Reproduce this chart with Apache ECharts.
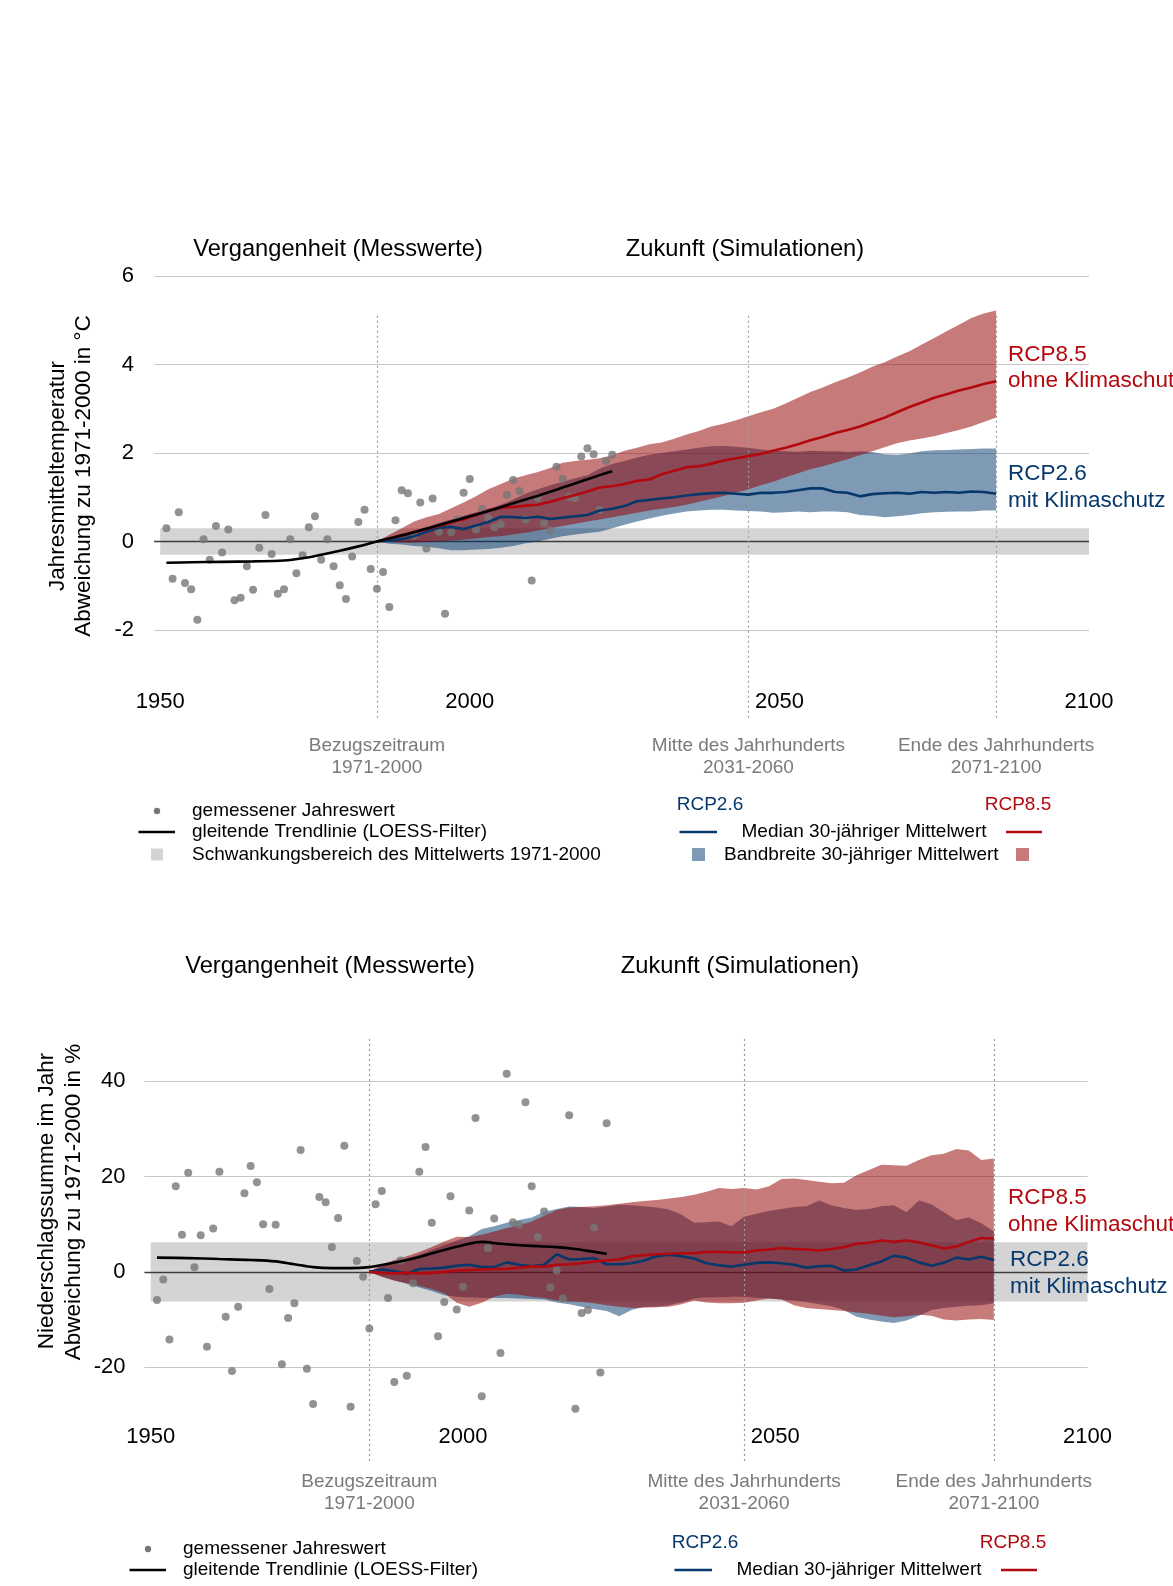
<!DOCTYPE html>
<html><head><meta charset="utf-8">
<script src="https://cdn.jsdelivr.net/npm/echarts@6/dist/echarts.min.js"></script>
<style>html,body{margin:0;padding:0;background:#fff}#c{width:1173px;height:1586px}</style>
</head><body><div id="c"></div>
<script>
const FONT = '"Liberation Sans", Arial, Helvetica, sans-serif';

// ---------- shared x values ----------
const obsYears = [1951,1952,1953,1954,1955,1956,1957,1958,1959,1960,1961,1962,1963,1964,1965,1966,1967,1968,1969,1970,1971,1972,1973,1974,1975,1976,1977,1978,1979,1980,1981,1982,1983,1984,1985,1986,1987,1988,1989,1990,1991,1992,1993,1994,1995,1996,1997,1998,1999,2000,2001,2002,2003,2004,2005,2006,2007,2008,2009,2010,2011,2012,2013,2014,2015,2016,2017,2018,2019,2020,2021,2022,2023];
const modelYears = [1985,1987,1989,1991,1993,1995,1997,1999,2001,2003,2005,2007,2009,2011,2013,2015,2017,2019,2021,2023,2025,2027,2029,2031,2033,2035,2037,2039,2041,2043,2045,2047,2049,2051,2053,2055,2057,2059,2061,2063,2065,2067,2069,2071,2073,2075,2077,2079,2081,2083,2085];
const xTickLabels = [1950, 2000, 2050, 2100];
const periodYears = [1985, 2045, 2085];
const periodLabels = ['Bezugszeitraum\n1971-2000', 'Mitte des Jahrhunderts\n2031-2060', 'Ende des Jahrhunderts\n2071-2100'];

// ---------- chart 1: temperature ----------
const tempTicks = [-2, 0, 2, 4, 6];
const tempRefBand = [-0.3, 0.3];
const tempObs = [0.30,-0.84,0.66,-0.94,-1.08,-1.77,0.05,-0.41,0.35,-0.25,0.27,-1.33,-1.27,-0.56,-1.09,-0.14,0.60,-0.28,-1.18,-1.08,0.05,-0.72,-0.31,0.32,0.57,-0.41,0.05,-0.56,-0.99,-1.30,-0.34,0.44,0.72,-0.62,-1.07,-0.69,-1.48,0.48,1.16,1.09,0.14,0.88,-0.16,0.97,0.22,-1.63,0.21,0.50,1.10,1.41,0.27,0.74,0.53,0.32,0.39,1.05,1.39,1.14,0.50,-0.88,0.99,0.41,0.25,1.69,1.42,1.01,0.98,1.92,2.11,1.97,0.71,1.82,1.96];
const tempTrendYears = [1951,1955,1960,1965,1970,1973,1976,1979,1982,1985,1988,1991,1994,1997,2000,2003,2006,2009,2012,2015,2018,2021,2023];
const tempTrend = [-0.48,-0.47,-0.46,-0.45,-0.43,-0.38,-0.30,-0.21,-0.11,0.0,0.10,0.21,0.33,0.45,0.57,0.69,0.82,0.95,1.08,1.22,1.36,1.50,1.59];
const tempRcp26Low = [0.0,-0.05,-0.07,-0.1,-0.12,-0.15,-0.2,-0.2,-0.18,-0.17,-0.14,-0.1,-0.04,0.0,0.06,0.12,0.16,0.19,0.22,0.3,0.38,0.45,0.52,0.58,0.63,0.68,0.7,0.72,0.72,0.7,0.69,0.68,0.65,0.66,0.68,0.66,0.68,0.68,0.66,0.6,0.58,0.55,0.57,0.6,0.64,0.66,0.67,0.68,0.68,0.7,0.7];
const tempRcp26Med = [0.0,0.02,0.05,0.12,0.22,0.31,0.33,0.28,0.36,0.44,0.56,0.55,0.53,0.56,0.51,0.54,0.57,0.6,0.7,0.74,0.8,0.91,0.94,0.97,1.0,1.04,1.07,1.09,1.1,1.08,1.06,1.1,1.1,1.12,1.16,1.2,1.2,1.12,1.1,1.02,1.07,1.09,1.1,1.08,1.12,1.1,1.12,1.1,1.13,1.12,1.08];
const tempRcp26High = [0.0,0.1,0.17,0.25,0.33,0.42,0.5,0.58,0.66,0.74,0.83,0.95,1.08,1.18,1.27,1.35,1.43,1.5,1.65,1.75,1.82,1.9,1.96,2.0,2.04,2.08,2.12,2.15,2.16,2.14,2.12,2.08,2.05,2.04,2.03,2.05,2.04,2.04,2.02,2.04,2.02,1.97,1.96,1.99,2.04,2.06,2.07,2.08,2.09,2.1,2.1];
const tempRcp85Low = [0.0,-0.01,-0.02,-0.02,-0.01,0.0,0.02,0.04,0.07,0.1,0.12,0.16,0.2,0.25,0.3,0.35,0.4,0.45,0.5,0.55,0.6,0.65,0.7,0.74,0.78,0.83,0.9,0.96,1.03,1.1,1.18,1.27,1.35,1.45,1.54,1.63,1.7,1.78,1.86,1.95,2.04,2.13,2.22,2.28,2.33,2.38,2.45,2.52,2.6,2.7,2.8];
const tempRcp85Med = [0.0,0.07,0.14,0.21,0.28,0.35,0.43,0.5,0.6,0.7,0.76,0.78,0.81,0.83,0.9,0.98,1.05,1.13,1.22,1.25,1.3,1.37,1.4,1.52,1.6,1.68,1.7,1.76,1.83,1.88,1.93,1.98,2.05,2.12,2.2,2.29,2.36,2.45,2.52,2.6,2.7,2.8,2.92,3.04,3.14,3.25,3.33,3.41,3.48,3.56,3.62];
const tempRcp85High = [0.0,0.15,0.3,0.45,0.55,0.62,0.75,0.88,1.02,1.18,1.3,1.42,1.5,1.57,1.66,1.78,1.82,1.85,1.88,1.95,2.05,2.12,2.2,2.24,2.32,2.42,2.5,2.6,2.66,2.74,2.83,2.92,3.0,3.12,3.25,3.38,3.48,3.6,3.7,3.82,3.95,4.05,4.18,4.3,4.45,4.6,4.75,4.9,5.05,5.15,5.22];

// ---------- chart 2: precipitation ----------
const precipTicks = [-20, 0, 20, 40];
const precipRefBand = [-6.2, 6.2];
const precipObs = [-5.9,-1.6,-14.2,18.0,7.8,20.8,1.0,7.7,-15.7,9.1,21.0,-9.4,-20.8,-7.3,16.5,22.2,18.8,10.0,-3.6,9.9,-19.4,-9.7,-6.6,25.6,-20.3,-27.7,15.7,14.6,5.2,11.3,26.5,-28.3,2.3,-1.0,-11.9,14.2,17.0,-5.5,-23.1,2.4,-21.8,-2.4,21.0,26.2,10.3,-13.5,-6.3,15.9,-7.9,-3.1,12.9,32.3,-26.1,5.0,11.2,-17.0,41.6,10.4,9.9,35.6,18.0,7.3,12.7,-3.3,0.3,-5.6,32.9,-28.7,-8.6,-8.0,9.3,-21.1,31.2];
const precipTrendYears = [1951,1956,1961,1966,1970,1973,1976,1979,1982,1985,1988,1991,1994,1997,2000,2003,2006,2009,2012,2015,2018,2021,2023];
const precipTrend = [3.0,2.9,2.7,2.5,2.2,1.6,1.0,0.8,0.8,1.0,1.7,2.5,3.5,4.6,5.6,6.3,5.9,5.6,5.4,5.2,4.8,4.2,3.8];
const precipRcp26Low = [0,-1.0,-1.8,-2.5,-3.3,-4.0,-4.9,-5.2,-5.3,-5.4,-5.5,-5.5,-5.6,-5.7,-5.8,-6.4,-6.8,-7.3,-7.8,-8.2,-9.3,-8.0,-7.3,-7.3,-7.0,-6.4,-5.6,-5.3,-5.3,-5.2,-5.2,-5.4,-5.6,-5.8,-6.0,-6.3,-6.8,-7.2,-8.0,-9.4,-10.0,-10.4,-10.7,-10.2,-9.2,-8.0,-7.6,-7.3,-7.1,-7.0,-6.6];
const precipRcp26Med = [0,0.5,0.2,-0.4,0.6,0.7,0.9,1.3,1.5,1.0,1.0,2.0,1.5,1.2,1.5,3.7,2.6,2.7,2.9,1.6,1.6,1.8,2.4,3.3,3.6,3.3,2.8,1.8,1.4,1.1,1.5,1.9,2.0,1.8,1.5,0.9,1.2,1.3,0.3,0.5,1.4,2.2,3.4,3.0,2.0,1.3,1.9,3.0,2.6,3.2,2.5];
const precipRcp26High = [0,1.2,2.0,2.8,3.6,4.6,5.6,6.6,7.5,9.0,9.6,10.3,10.9,11.4,12.6,13.2,13.7,13.6,13.4,13.7,14.1,14.0,13.8,13.5,13.1,12.0,10.3,10.4,10.6,9.6,11.6,12.2,12.8,13.2,13.6,13.8,15.0,14.0,13.4,13.0,13.2,13.8,14.0,12.5,15.0,14.2,12.5,10.9,11.4,10.2,8.5];
const precipRcp85Low = [0,-1.0,-1.8,-2.4,-2.9,-3.6,-4.5,-6.5,-7.3,-6.5,-5.2,-4.6,-4.8,-5.2,-5.5,-6.0,-6.2,-6.3,-6.6,-7.0,-7.3,-7.6,-7.5,-7.4,-7.3,-6.8,-6.0,-6.4,-6.6,-6.6,-6.5,-6.0,-5.6,-5.8,-7.0,-7.6,-7.8,-8.0,-8.2,-8.5,-8.8,-9.2,-9.5,-9.3,-9.0,-9.2,-10.0,-10.2,-10.0,-9.9,-10.1];
const precipRcp85Med = [0,-0.2,-0.3,-0.2,-0.3,-0.2,0.0,0.3,0.4,0.5,0.6,0.6,0.9,1.1,1.1,1.5,1.6,1.8,2.2,2.4,2.6,3.3,3.5,3.7,3.8,3.9,3.9,4.2,4.2,4.1,4.1,4.5,4.7,5.0,4.8,4.7,4.5,4.8,5.2,5.9,6.1,6.6,6.3,6.6,6.2,5.6,4.9,5.3,6.3,7.1,7.0];
const precipRcp85High = [0,1.5,2.5,3.3,4.2,5.2,6.4,7.4,7.3,7.8,8.5,9.2,9.8,10.6,11.8,13.0,13.5,13.6,13.8,14.0,14.3,14.6,14.9,15.1,15.4,15.7,16.2,16.8,17.6,17.4,17.6,17.3,18.0,19.5,19.6,19.3,18.9,18.6,18.7,20.3,21.4,22.5,22.4,22.3,23.5,24.5,24.8,25.8,25.5,23.5,23.8];

// ---------- styles ----------
const BLUE = '#06386c', RED = '#b3080d';
const BLUE_BAND = 'rgba(0,54,108,0.5)', RED_BAND = 'rgba(148,0,0,0.52)';
const GREY_BAND = '#d4d4d4', DOT = '#777777', GRID = '#c6c6c6';

function pairs(xs, ys) { return xs.map((x, i) => [x, ys[i]]); }

// band drawn as one polygon through the axis scales (api.coord)
function band(g, lo, hi, color, z) {
  return {
    type: 'custom', xAxisIndex: g, yAxisIndex: g, silent: true, z: z, clip: true,
    data: modelYears.map((x, i) => [x, lo[i], hi[i]]),
    encode: { x: 0, y: [1, 2] },
    renderItem: function (params, api) {
      if (params.dataIndex !== 0) return null;
      const pts = [];
      for (let i = 0; i < modelYears.length; i++) pts.push(api.coord([modelYears[i], hi[i]]));
      for (let i = modelYears.length - 1; i >= 0; i--) pts.push(api.coord([modelYears[i], lo[i]]));
      return { type: 'polygon', shape: { points: pts }, style: { fill: color } };
    }
  };
}

function panel(g, cfg) {
  const out = [];
  out.push({ type: 'line', xAxisIndex: g, yAxisIndex: g, data: [], silent: true, z: 1,
    markArea: { silent: true, z: 1, itemStyle: { color: GREY_BAND },
      data: [[{ xAxis: 1950, yAxis: cfg.refBand[0] }, { xAxis: 2100, yAxis: cfg.refBand[1] }]] } });
  out.push({ type: 'line', xAxisIndex: g, yAxisIndex: g, data: [], silent: true, z: 2,
    markLine: { silent: true, z: 2, symbol: 'none', label: { show: false },
      lineStyle: { color: '#3c3c3c', width: 1.3, type: 'solid' }, data: [{ yAxis: 0 }] } });
  out.push(band(g, cfg.r26lo, cfg.r26hi, BLUE_BAND, 3));
  out.push(band(g, cfg.r85lo, cfg.r85hi, RED_BAND, 4));
  out.push({ type: 'line', xAxisIndex: g, yAxisIndex: g, data: [], silent: true, z: 5,
    markLine: { silent: true, z: 5, symbol: 'none',
      lineStyle: { color: '#9c9c9c', width: 1.2, type: [2, 3] },
      label: { show: true, position: 'end', distance: cfg.labelDist, formatter: p => p.name,
        color: '#7a7a7a', fontSize: 19, lineHeight: 21.5, fontFamily: FONT },
      data: periodYears.map((yr, i) => [{ name: periodLabels[i], coord: [yr, cfg.lineTop] }, { name: periodLabels[i], coord: [yr, cfg.lineBottom] }]) } });
  out.push({ type: 'scatter', xAxisIndex: g, yAxisIndex: g, data: pairs(obsYears, cfg.obs), symbolSize: 8,
    itemStyle: { color: DOT }, silent: true, z: 6 });
  out.push({ type: 'line', xAxisIndex: g, yAxisIndex: g, data: pairs(modelYears, cfg.r26med), symbol: 'none',
    lineStyle: { color: BLUE, width: 2.6 }, silent: true, z: 7 });
  out.push({ type: 'line', xAxisIndex: g, yAxisIndex: g, data: pairs(modelYears, cfg.r85med), symbol: 'none',
    lineStyle: { color: RED, width: 2.6 }, silent: true, z: 7 });
  out.push({ type: 'line', xAxisIndex: g, yAxisIndex: g, data: pairs(cfg.trendYears, cfg.trend), symbol: 'none',
    smooth: 0.35, lineStyle: { color: '#000', width: 2.6 }, silent: true, z: 8 });
  return out;
}

const series = [].concat(
  panel(0, { refBand: tempRefBand, r26lo: tempRcp26Low, r26med: tempRcp26Med, r26hi: tempRcp26High,
    r85lo: tempRcp85Low, r85med: tempRcp85Med, r85hi: tempRcp85High, obs: tempObs,
    trendYears: tempTrendYears, trend: tempTrend, lineTop: 5.1, lineBottom: -4, labelDist: 17 }),
  panel(1, { refBand: precipRefBand, r26lo: precipRcp26Low, r26med: precipRcp26Med, r26hi: precipRcp26High,
    r85lo: precipRcp85Low, r85med: precipRcp85Med, r85hi: precipRcp85High, obs: precipObs,
    trendYears: precipTrendYears, trend: precipTrend, lineTop: 48.9, lineBottom: -40, labelDist: 9 })
);

function xAxis(g, margin) {
  return { type: 'value', gridIndex: g, min: 1949, max: 2100, interval: 1,
    axisLine: { show: false }, axisTick: { show: false }, splitLine: { show: false },
    axisLabel: { margin: margin, fontSize: 22, color: '#000', fontFamily: FONT,
      formatter: v => xTickLabels.includes(Math.round(v)) ? String(Math.round(v)) : '' } };
}
function yAxis(g, min, max, interval, ticks, margin, showMax) {
  return { type: 'value', gridIndex: g, min: min, max: max, interval: interval,
    axisLine: { show: false }, axisTick: { show: false },
    splitLine: { show: true, showMinLine: false, showMaxLine: showMax, lineStyle: { color: GRID, width: 1.2 } },
    axisLabel: { margin: margin, fontSize: 22, color: '#000', fontFamily: FONT,
      formatter: v => ticks.includes(v) ? String(v) : '' } };
}

function txt(x, y, text, size, color, align, extra) {
  return Object.assign({ type: 'text', x: x, y: y, silent: true, z: 100,
    style: { text: text, fill: color || '#000', fontSize: size, fontFamily: FONT,
      align: align || 'left', verticalAlign: 'middle', textAlign: align || 'left', textVerticalAlign: 'middle' } }, extra || {});
}
function legend(dxL, dxR, dy, row3) {
  const L = [];
  const d3 = dy + row3;
  L.push({ type: 'circle', silent: true, z: 100, shape: { cx: 157 + dxL, cy: 811 + dy, r: 3.2 }, style: { fill: DOT } });
  L.push(txt(192 + dxL, 811 + dy, 'gemessener Jahreswert', 19));
  L.push({ type: 'line', silent: true, z: 100, shape: { x1: 138.5 + dxL, y1: 832 + dy, x2: 175 + dxL, y2: 832 + dy }, style: { stroke: '#000', lineWidth: 2.6 } });
  L.push(txt(192 + dxL, 832 + dy, 'gleitende Trendlinie (LOESS-Filter)', 19));
  L.push({ type: 'rect', silent: true, z: 100, shape: { x: 151 + dxL, y: 848.5 + d3, width: 12, height: 12 }, style: { fill: GREY_BAND } });
  L.push(txt(192 + dxL, 854.5 + d3, 'Schwankungsbereich des Mittelwerts 1971-2000', 19));
  L.push(txt(710 + dxR, 805 + dy, 'RCP2.6', 19, BLUE, 'center'));
  L.push(txt(1018 + dxR, 805 + dy, 'RCP8.5', 19, RED, 'center'));
  L.push({ type: 'line', silent: true, z: 100, shape: { x1: 679.5 + dxR, y1: 832 + dy, x2: 717 + dxR, y2: 832 + dy }, style: { stroke: BLUE, lineWidth: 2.6 } });
  L.push(txt(864 + dxR, 832 + dy, 'Median 30-jähriger Mittelwert', 19, '#000', 'center'));
  L.push({ type: 'line', silent: true, z: 100, shape: { x1: 1006 + dxR, y1: 832 + dy, x2: 1042 + dxR, y2: 832 + dy }, style: { stroke: RED, lineWidth: 2.6 } });
  L.push({ type: 'rect', silent: true, z: 100, shape: { x: 692 + dxR, y: 848 + d3, width: 13, height: 13 }, style: { fill: BLUE_BAND } });
  L.push(txt(724 + dxR, 854.5 + d3, 'Bandbreite 30-jähriger Mittelwert', 19));
  L.push({ type: 'rect', silent: true, z: 100, shape: { x: 1016 + dxR, y: 848 + d3, width: 13, height: 13 }, style: { fill: RED_BAND } });
  return L;
}

const graphics = [].concat(
  [
    txt(338, 249, 'Vergangenheit (Messwerte)', 23.7, '#000', 'center'),
    txt(745, 249, 'Zukunft (Simulationen)', 23.7, '#000', 'center'),
    txt(330, 966, 'Vergangenheit (Messwerte)', 23.7, '#000', 'center'),
    txt(740, 966, 'Zukunft (Simulationen)', 23.7, '#000', 'center'),
    txt(57.6, 476, 'Jahresmitteltemperatur', 22.5, '#000', 'center', { rotation: Math.PI / 2 }),
    txt(84, 476, 'Abweichung zu 1971-2000 in °C', 22.5, '#000', 'center', { rotation: Math.PI / 2 }),
    txt(46.5, 1201, 'Niederschlagssumme im Jahr', 22.5, '#000', 'center', { rotation: Math.PI / 2 }),
    txt(74, 1202, 'Abweichung zu 1971-2000 in %', 22.5, '#000', 'center', { rotation: Math.PI / 2 }),
    txt(1008, 355, 'RCP8.5', 22.5, RED),
    txt(1008, 381, 'ohne Klimaschutz', 22.5, RED),
    txt(1008, 474, 'RCP2.6', 22.5, BLUE),
    txt(1008, 500.5, 'mit Klimaschutz', 22.5, BLUE),
    txt(1008, 1198, 'RCP8.5', 22.5, RED),
    txt(1008, 1224.5, 'ohne Klimaschutz', 22.5, RED),
    txt(1010, 1260, 'RCP2.6', 22.5, BLUE),
    txt(1010, 1287, 'mit Klimaschutz', 22.5, BLUE)
  ],
  legend(0, 0, 0, 0),
  legend(-9, -5, 738, 5)
);

const chart = echarts.init(document.getElementById('c'), null, { renderer: 'canvas', width: 1173, height: 1586 });
chart.setOption({
  animation: false,
  backgroundColor: '#fff',
  textStyle: { fontFamily: FONT },
  grid: [
    { left: 154, width: 935, top: 276, height: 442.5 },
    { left: 144.5, width: 943, top: 986, height: 476.5 }
  ],
  xAxis: [xAxis(0, -28), xAxis(1, -37)],
  yAxis: [yAxis(0, -4, 6, 2, tempTicks, 20, true), yAxis(1, -40, 60, 20, precipTicks, 19, false)],
  series: series,
  graphic: graphics
});
</script>
</body></html>
